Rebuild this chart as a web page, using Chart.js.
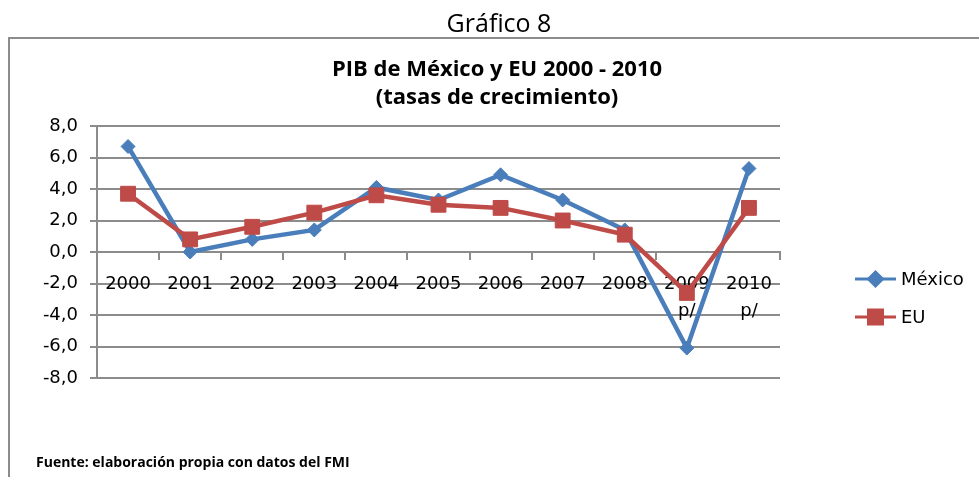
<!DOCTYPE html>
<html lang="es">
<head>
<meta charset="utf-8">
<title>Gráfico 8</title>
<script src="https://cdn.jsdelivr.net/npm/chart.js@4.4.1/dist/chart.umd.min.js"></script>
<style>
  html, body { margin: 0; padding: 0; background: #fff; overflow: hidden; }
</style>
</head>
<body>
<canvas id="grafico" width="979" height="477"></canvas>
<script>
// datos (tasas de crecimiento del PIB, %)
const anios = ['2000', '2001', '2002', '2003', '2004', '2005', '2006', '2007', '2008', '2009', '2010'];
const notas = ['', '', '', '', '', '', '', '', '', 'p/', 'p/'];
const mexico = [6.7, 0.0, 0.8, 1.4, 4.1, 3.3, 4.9, 3.3, 1.4, -6.1, 5.3];
const eu = [3.7, 0.8, 1.6, 2.5, 3.6, 3.0, 2.8, 2.0, 1.1, -2.6, 2.8];

// eje y
const yMin = -8;
const yMax = 8;
const yPaso = 2;

const tituloDoc = 'Gráfico 8';
const titulo = ['PIB de México y EU 2000 - 2010', '(tasas de crecimiento)'];
const fuente = 'Fuente: elaboración propia con datos del FMI';

const azul = '#4A7EBB';
const rojo = '#BE4B48';
const gris = '#8c8c8c';
const letraEjes = { family: '"DejaVu Sans", sans-serif', size: 18, lineHeight: 27 / 18 };

// etiquetas de dos lineas cuando hay nota (p/)
const etiquetas = anios.map((a, i) => notas[i] ? [a, notas[i]] : a);

// titulo, marco, fuente y leyenda
const decor = {
    id: 'decor',
    afterDraw(chart) {
        const c = chart.ctx;
        c.save();

        // marco del grafico
        c.strokeStyle = gris;
        c.lineWidth = 2;
        c.beginPath();
        c.moveTo(9, 477);
        c.lineTo(9, 38);
        c.lineTo(979, 38);
        c.stroke();

        c.fillStyle = '#000';
        c.textBaseline = 'alphabetic';
        c.textAlign = 'center';
        c.font = '25px "Open Sans"';
        c.fillText(tituloDoc, 499, 32);
        c.font = 'bold 22px "Open Sans"';
        c.fillText(titulo[0], 497, 76);
        c.fillText(titulo[1], 497, 104);

        c.textAlign = 'left';
        c.font = 'bold 14px "Open Sans"';
        c.fillText(fuente, 36, 467);

        // leyenda
        const filas = [279, 317];
        const radios = [7, 9.9];
        chart.data.datasets.forEach((ds, i) => {
            const y = filas[i];
            c.strokeStyle = ds.borderColor;
            c.lineWidth = 3;
            c.beginPath();
            c.moveTo(855, y);
            c.lineTo(896, y);
            c.stroke();
            c.fillStyle = ds.backgroundColor;
            Chart.helpers.drawPoint(c, { pointStyle: ds.pointStyle, radius: radios[i], borderWidth: 1, rotation: 0 }, 875.5, y);
            c.fillStyle = '#000';
            c.font = '18px "DejaVu Sans"';
            c.textBaseline = 'middle';
            c.fillText(ds.label, 901, y + 1);
        });

        c.restore();
    }
};

const ctx = document.getElementById('grafico');

new Chart(ctx, {
    type: 'line',
    data: {
        labels: etiquetas,
        datasets: [{
            label: 'México',
            data: mexico,
            borderColor: azul,
            backgroundColor: azul,
            borderWidth: 4.5,
            pointStyle: 'rectRot',
            pointRadius: 7,
            pointBorderWidth: 1,
            order: 2
        }, {
            label: 'EU',
            data: eu,
            borderColor: rojo,
            backgroundColor: rojo,
            borderWidth: 4.5,
            pointStyle: 'rect',
            pointRadius: 10.5,
            pointBorderWidth: 1,
            order: 1
        }]
    },
    options: {
        responsive: false,
        animation: false,
        layout: { padding: { left: 8, top: 126, right: 199, bottom: 99 } },
        plugins: {
            legend: { display: false },
            title: { display: false },
            tooltip: { enabled: false }
        },
        scales: {
            x: {
                position: { y: 0 },
                offset: true,
                z: 1,
                grid: { offset: true, drawOnChartArea: false, tickLength: 7, color: gris, lineWidth: 2 },
                border: { color: gris, width: 2 },
                ticks: { color: '#000', padding: 12, maxRotation: 0, autoSkip: false, font: letraEjes }
            },
            y: {
                min: yMin,
                max: yMax,
                afterFit: (scale) => { scale.width = 89; },
                grid: { color: gris, lineWidth: 2, tickLength: 7 },
                border: { color: gris, width: 2 },
                ticks: {
                    stepSize: yPaso,
                    padding: 12,
                    color: '#000',
                    font: letraEjes,
                    callback: (v) => v.toFixed(1).replace('.', ',')
                }
            }
        }
    },
    plugins: [decor]
});
</script>
</body>
</html>
